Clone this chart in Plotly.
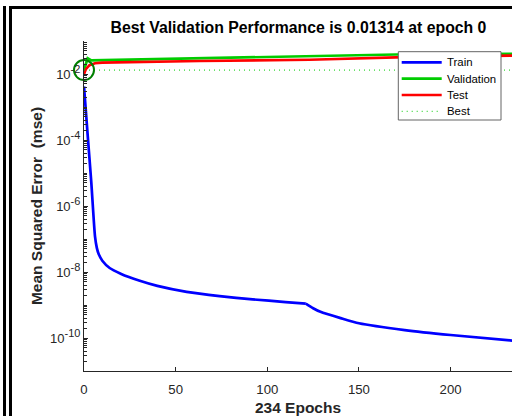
import plotly.graph_objects as go

# Training record (mean squared error per epoch)
epochs_train = [0, 2, 4, 6, 7, 8, 10, 14, 20, 30, 40, 56, 74, 92, 110, 121, 125, 129, 140, 150, 175, 200, 234]
mse_train = [4.2e-3, 1.4e-4, 5.0e-6, 1.2e-7, 5.4e-8, 3.5e-8, 2.2e-8, 1.32e-8, 8.9e-9, 5.5e-9, 3.8e-9,
             2.5e-9, 1.86e-9, 1.48e-9, 1.23e-9, 1.10e-9, 8.0e-10, 6.2e-10, 4.0e-10, 2.8e-10, 1.74e-10,
             1.23e-10, 8.3e-11]
# epoch at which the training curve changes slope abruptly
train_break_epoch = 121

epochs_val = [0, 2, 4, 10, 36, 63, 123, 170, 234]
mse_val = [0.01314, 0.030, 0.0258, 0.0262, 0.027, 0.0285, 0.034, 0.039, 0.041]

epochs_test = [0, 1, 3, 6, 10, 38, 63, 123, 170, 234]
mse_test = [0.0100, 0.0140, 0.0185, 0.0212, 0.0222, 0.024, 0.0248, 0.027, 0.032, 0.036]

n_epochs = 234
best_epoch = 0
best_perf = 0.01314

x_ticks = [0, 50, 100, 150, 200]
y_label_decades = [-10, -8, -6, -4, -2]
y_decades = list(range(-11, 0))

series_names = ["Train", "Validation", "Test", "Best"]
series_colors = ["rgb(0,0,255)", "rgb(0,204,0)", "rgb(255,0,0)", "rgb(0,204,0)"]

FONT = "Liberation Sans, Arial, Helvetica, sans-serif"
AX = "rgb(38,38,38)"
LW = 2.7
BEST_DASH = "1px,4px"

# Plot-area geometry in pixels
W, H = 512, 416
L, R, T, B = 84, 0, 41, 45
PW, PH = W - L - R, H - T - B


def px_x(px):
    return (px - L) / PW


def px_y(py):
    return (H - B - py) / PH


fig = go.Figure()

# Training curve: smooth on each side of the break, sharp corner at the break
k = epochs_train.index(train_break_epoch)
for xs, ys in [(epochs_train[:k + 1], mse_train[:k + 1]), (epochs_train[k:], mse_train[k:])]:
    fig.add_trace(go.Scatter(x=xs, y=ys, mode="lines", name=series_names[0], legendgroup="train",
                             line=dict(color=series_colors[0], width=LW, shape="spline", smoothing=0.6)))
fig.add_trace(go.Scatter(x=epochs_val, y=mse_val, mode="lines", name=series_names[1],
                         line=dict(color=series_colors[1], width=LW)))
fig.add_trace(go.Scatter(x=epochs_test, y=mse_test, mode="lines", name=series_names[2],
                         line=dict(color=series_colors[2], width=LW)))
fig.add_trace(go.Scatter(x=[0, n_epochs], y=[best_perf, best_perf], mode="lines", name=series_names[3],
                         line=dict(color=series_colors[3], width=1, dash=BEST_DASH)))
fig.add_trace(go.Scatter(x=[best_epoch], y=[best_perf], mode="markers", showlegend=False,
                         cliponaxis=False,
                         marker=dict(symbol="circle-open", size=20, color="rgb(0,128,0)",
                                     line=dict(color="rgb(0,128,0)", width=2))))

# Minor ticks: the 2..9 subdivisions plus the unlabelled odd decades
minor_vals = [m * 10 ** d for d in y_decades[:-1] for m in range(1, 10)
              if not (m == 1 and d in y_label_decades)]

fig.update_layout(
    width=W, height=H,
    margin=dict(l=L, r=R, t=T, b=B, pad=0),
    paper_bgcolor="white", plot_bgcolor="white",
    font=dict(family=FONT, color=AX, size=13.2),
    showlegend=False,
    title=dict(text=f"<b>Best Validation Performance is {best_perf} at epoch {best_epoch}</b>",
               x=px_x(298.5), xref="paper", xanchor="center",
               y=1 - 27 / H, yref="container", yanchor="middle",
               font=dict(size=15.8, color="black", family=FONT)),
    xaxis=dict(range=[0, 233.5], tickvals=x_ticks, ticks="inside", ticklen=4,
               tickcolor=AX, showline=True, linecolor=AX, linewidth=1,
               ticklabelstandoff=6,
               showgrid=False, zeroline=False,
               title=dict(text=f"<b>{n_epochs} Epochs</b>", standoff=6,
                          font=dict(size=15.5, color=AX))),
    yaxis=dict(type="log", range=[-11, -1],
               tickvals=[10 ** d for d in y_label_decades],
               ticktext=[f"10<sup><span style='font-size:11px'>{d}</span></sup>" for d in y_label_decades],
               tickfont=dict(size=13),
               ticks="inside", ticklen=4, tickcolor=AX,
               minor=dict(tickvals=minor_vals, ticks="inside", ticklen=2.5, tickcolor=AX, showgrid=False),
               showline=True, linecolor=AX, linewidth=1,
               showgrid=False, zeroline=False,
               title=dict(text="<b>Mean Squared Error  (mse)</b>", standoff=3,
                          font=dict(size=15.5, color=AX))),
)

# Legend box with one sample line and label per series
box_l, box_r, box_t, box_b = 398.3, 501, 51.7, 120
fig.add_shape(type="rect", xref="paper", yref="paper",
              x0=px_x(box_l), x1=px_x(box_r), y0=px_y(box_b), y1=px_y(box_t),
              fillcolor="white", line=dict(color="rgb(100,100,100)", width=1), layer="above")
row_y = [62.3, 78.7, 95.0, 111.3]
for name, color, ry in zip(series_names, series_colors, row_y):
    is_best = name == "Best"
    fig.add_shape(type="line", xref="paper", yref="paper",
                  x0=px_x(401.7), x1=px_x(441.7), y0=px_y(ry), y1=px_y(ry),
                  line=dict(color=color, width=1 if is_best else LW,
                            dash=BEST_DASH if is_best else "solid"),
                  layer="above")
    fig.add_annotation(text=name, xref="paper", yref="paper", x=px_x(444.5), y=px_y(ry),
                       xanchor="left", yanchor="middle", showarrow=False,
                       font=dict(size=11.4, color="black", family=FONT))

# Window frame edges at the left and top
for x0, x1, y0, y1 in [(3, 6, 6, H), (9, 12, 6, H), (9, W, 6, 9)]:
    fig.add_shape(type="rect", xref="paper", yref="paper",
                  x0=px_x(x0), x1=px_x(x1), y0=px_y(y1), y1=px_y(y0),
                  fillcolor="black", line=dict(width=0), layer="above")

fig.write_html("out.html")
